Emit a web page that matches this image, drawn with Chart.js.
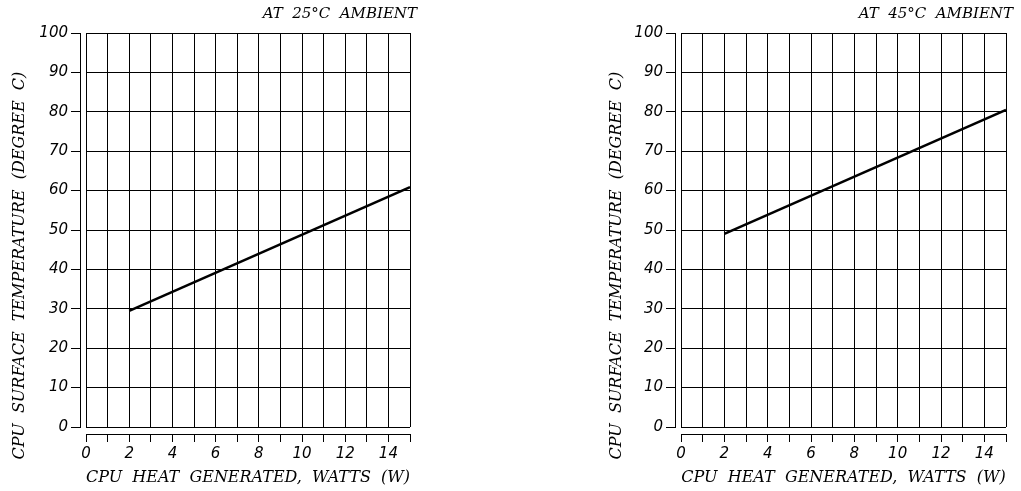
<!DOCTYPE html>
<html>
<head>
<meta charset="utf-8">
<script src="https://cdn.jsdelivr.net/npm/chart.js@4.4.1/dist/chart.umd.min.js"></script>
<style>
  html, body { margin: 0; padding: 0; background: #fff; }
  body { width: 1021px; height: 491px; position: relative; overflow: hidden; }
  .box { position: absolute; top: 0; height: 491px; }
</style>
</head>
<body>
<div class="box" style="left:0px;width:420px"><canvas id="chart25" width="420" height="491"></canvas></div>
<div class="box" style="left:595px;width:421px"><canvas id="chart45" width="421" height="491"></canvas></div>
<script>
// heat generated (W) at the two ends of each curve
var watts = [2, 15];
// cpu surface temperature (deg C)
var temp25 = [29.5, 60.9];
var temp45 = [49, 80.5];

var chartTitles = ['AT  25°C  AMBIENT', 'AT  45°C  AMBIENT'];
var xTitle = 'CPU  HEAT  GENERATED,  WATTS  (W)';
var yTitle = 'CPU  SURFACE  TEMPERATURE  (DEGREE  C)';

var xMin = 0, xMax = 15, xStep = 1;
var yMin = 0, yMax = 100, yStep = 10;

var labelFont = { family: 'DejaVu Serif', style: 'italic', size: 16 };
var tickFont = { family: 'DejaVu Sans', style: 'italic', size: 15 };

function toPoints(xs, ys) {
  return xs.map(function (x, i) {
    return { x: x, y: ys[i] };
  });
}

function buildChart(id, title, temps, yTitlePad) {
  var ctx = document.getElementById(id).getContext('2d');
  return new Chart(ctx, {
    type: 'scatter',
    data: {
      datasets: [{
        data: toPoints(watts, temps),
        showLine: true,
        borderColor: '#000',
        borderWidth: 2.5,
        pointRadius: 0,
        xAxisID: 'x',
        yAxisID: 'y'
      }]
    },
    options: {
      responsive: false,
      animation: false,
      layout: { padding: { left: 0, right: 3, top: 0, bottom: 0 } },
      plugins: {
        legend: { display: false },
        tooltip: { enabled: false },
        title: {
          display: true,
          text: title,
          align: 'end',
          color: '#000',
          font: { family: 'DejaVu Serif', style: 'italic', size: 15, weight: 'normal' },
          padding: { top: 5, bottom: 10 }
        }
      },
      scales: {
        x: {
          type: 'linear', position: 'bottom', weight: 0,
          min: xMin, max: xMax,
          ticks: { display: false, stepSize: xStep },
          grid: { color: '#000', drawTicks: false },
          border: { display: false },
          afterFit: function (s) { s.height = 7; }
        },
        xAxis: {
          type: 'linear', position: 'bottom', weight: 1,
          min: xMin, max: xMax,
          ticks: {
            stepSize: xStep, autoSkip: false, maxRotation: 0, padding: 3,
            color: '#000', font: tickFont,
            callback: function (v) { return v % 2 === 0 ? v : ''; }
          },
          grid: { drawOnChartArea: false, tickLength: 8, color: '#000' },
          border: { display: true, color: '#000', width: 1 },
          title: {
            display: true, text: xTitle, color: '#000', font: labelFont,
            padding: { top: 0, bottom: 4 }
          },
          afterFit: function (s) { s.height = 57; }
        },
        y: {
          type: 'linear', position: 'left', weight: 0,
          min: yMin, max: yMax,
          ticks: { display: false, stepSize: yStep },
          grid: { color: '#000', drawTicks: false },
          border: { display: false },
          afterFit: function (s) { s.width = 6; }
        },
        yAxis: {
          type: 'linear', position: 'left', weight: 1,
          min: yMin, max: yMax,
          ticks: { stepSize: yStep, padding: 3, color: '#000', font: tickFont },
          grid: { drawOnChartArea: false, tickLength: 9, color: '#000' },
          border: { display: true, color: '#000', width: 1 },
          title: {
            display: true, text: yTitle + '              ', color: '#000', font: labelFont,
            padding: { top: yTitlePad, bottom: 0 }
          },
          afterFit: function (s) { s.width = 80; }
        },
        yRight: {
          type: 'linear', position: 'right',
          min: yMin, max: yMax,
          ticks: { display: false },
          grid: { display: false, drawTicks: false },
          border: { display: false },
          afterFit: function (s) { s.width = 7; }
        }
      }
    }
  });
}

buildChart('chart25', chartTitles[0], temp25, 10);
buildChart('chart45', chartTitles[1], temp45, 12);
</script>
</body>
</html>
